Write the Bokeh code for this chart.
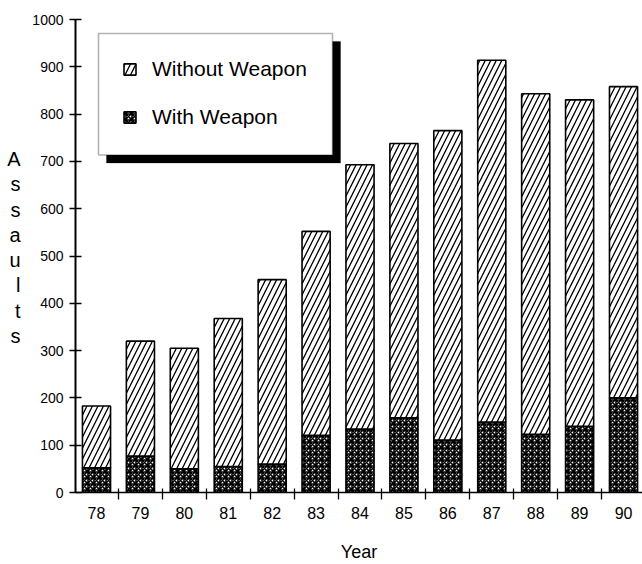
from bokeh.plotting import figure
from bokeh.models import (ColumnDataSource, FixedTicker, Range1d, Legend, LegendItem,
                          BoxAnnotation, LinearAxis)
from bokeh.embed import file_html
from bokeh.resources import INLINE

# ---- data ----
years = [78, 79, 80, 81, 82, 83, 84, 85, 86, 87, 88, 89, 90]
with_weapon = [52, 77, 50, 55, 60, 121, 134, 158, 111, 149, 123, 140, 200]
without_weapon = [131, 243, 255, 313, 390, 431, 559, 580, 654, 765, 720, 690, 658]
y_ticks = [0, 100, 200, 300, 400, 500, 600, 700, 800, 900, 1000]
series_names = ["Without Weapon", "With Weapon"]
y_title = "Assaults"
x_title = "Year"

FONT = "Liberation Sans"

# ---- layout geometry (pixels) ----
W, H = 642, 564
FRAME_L, FRAME_R = 75, 642
FRAME_T, FRAME_B = 19, 494
X0, X1 = 77.522, 90.432
Y0, Y1 = 0, 1000


def px2x(px):
    return X0 + (px - FRAME_L) * (X1 - X0) / (FRAME_R - FRAME_L)


def py2y(py):
    return Y0 + (FRAME_B - py) * (Y1 - Y0) / (FRAME_B - FRAME_T)


tops = [a + b for a, b in zip(with_weapon, without_weapon)]
src = ColumnDataSource(dict(x=years, w=with_weapon, top=tops))

p = figure(width=W, height=H, x_range=Range1d(X0, X1), y_range=Range1d(Y0, Y1),
           output_backend="svg", toolbar_location=None,
           min_border_left=FRAME_L, min_border_right=W - FRAME_R,
           min_border_top=FRAME_T, min_border_bottom=H - FRAME_B)
p.outline_line_color = None
p.background_fill_color = "white"
p.border_fill_color = "white"
p.xgrid.grid_line_color = None
p.ygrid.grid_line_color = None

# shadow + box of the legend (drawn before the legend)
shadow = BoxAnnotation(left=px2x(106), right=px2x(340), top=py2y(41), bottom=py2y(163),
                       fill_color="black", fill_alpha=1.0, line_color="black")
box = BoxAnnotation(left=px2x(98), right=px2x(332), top=py2y(33), bottom=py2y(155),
                    fill_color="white", fill_alpha=1.0, line_color="black", line_width=1.6)
p.add_layout(shadow)
p.add_layout(box)

r_with = p.vbar(x="x", bottom=0, top="w", width=0.64, source=src,
                fill_color="white", line_color="black", line_width=1.6,
                hatch_pattern="criss_cross", hatch_color="black", hatch_scale=6,
                hatch_weight=1.6)
r_without = p.vbar(x="x", bottom="w", top="top", width=0.64, source=src,
                   fill_color="white", line_color="black", line_width=1.6,
                   hatch_pattern="right_diagonal_line", hatch_color="black",
                   hatch_scale=11, hatch_weight=1.3)

legend = Legend(items=[LegendItem(label=series_names[0], renderers=[r_without]),
                       LegendItem(label=series_names[1], renderers=[r_with])],
                location=(47, 363), padding=0, spacing=24, margin=0,
                glyph_width=15, glyph_height=14, label_height=22, label_standoff=15,
                border_line_alpha=0, background_fill_alpha=0,
                label_text_font=FONT, label_text_font_size="21px", label_text_color="black")
p.add_layout(legend)

# x axis
xa = p.xaxis[0]
xa.ticker = FixedTicker(ticks=years, minor_ticks=[y + 0.5 for y in years[:-1]])
xa.major_tick_in = 0
xa.major_tick_out = 0
xa.minor_tick_in = 4
xa.minor_tick_out = 7
xa.minor_tick_line_color = "black"
xa.minor_tick_line_width = 1.3
xa.axis_line_color = "black"
xa.axis_line_width = 1.6
xa.major_label_standoff = 7
xa.major_label_text_font = FONT
xa.major_label_text_font_size = "16px"
xa.major_label_text_color = "black"
xa.axis_label = x_title
xa.axis_label_text_font = FONT
xa.axis_label_text_font_size = "18px"
xa.axis_label_text_font_style = "normal"
xa.axis_label_text_color = "black"
xa.axis_label_standoff = 20

# y axis
ya = p.yaxis[0]
ya.ticker = FixedTicker(ticks=y_ticks)
ya.major_tick_in = 6
ya.major_tick_out = 6
ya.major_tick_line_color = "black"
ya.major_tick_line_width = 1.3
ya.minor_tick_line_color = None
ya.axis_line_color = "black"
ya.axis_line_width = 2
ya.major_label_standoff = 6
ya.major_label_text_font = FONT
ya.major_label_text_font_size = "14px"
ya.major_label_text_color = "black"

# vertical stacked-letter axis title, drawn as an extra label-only axis
letter_ticks = [round(py2y(159 + i * 25.4)) for i in range(len(y_title))]
title_axis = LinearAxis(ticker=FixedTicker(ticks=letter_ticks),
                        major_label_overrides={t: ch for t, ch in zip(letter_ticks, y_title)},
                        axis_line_color=None, major_tick_line_color=None,
                        minor_tick_line_color=None, major_tick_out=0, major_tick_in=0,
                        major_label_standoff=9, major_label_text_align="center",
                        major_label_text_font=FONT, major_label_text_font_size="20px",
                        major_label_text_color="black")
p.add_layout(title_axis, "left")

open("out.html", "w").write(file_html(p, INLINE))
